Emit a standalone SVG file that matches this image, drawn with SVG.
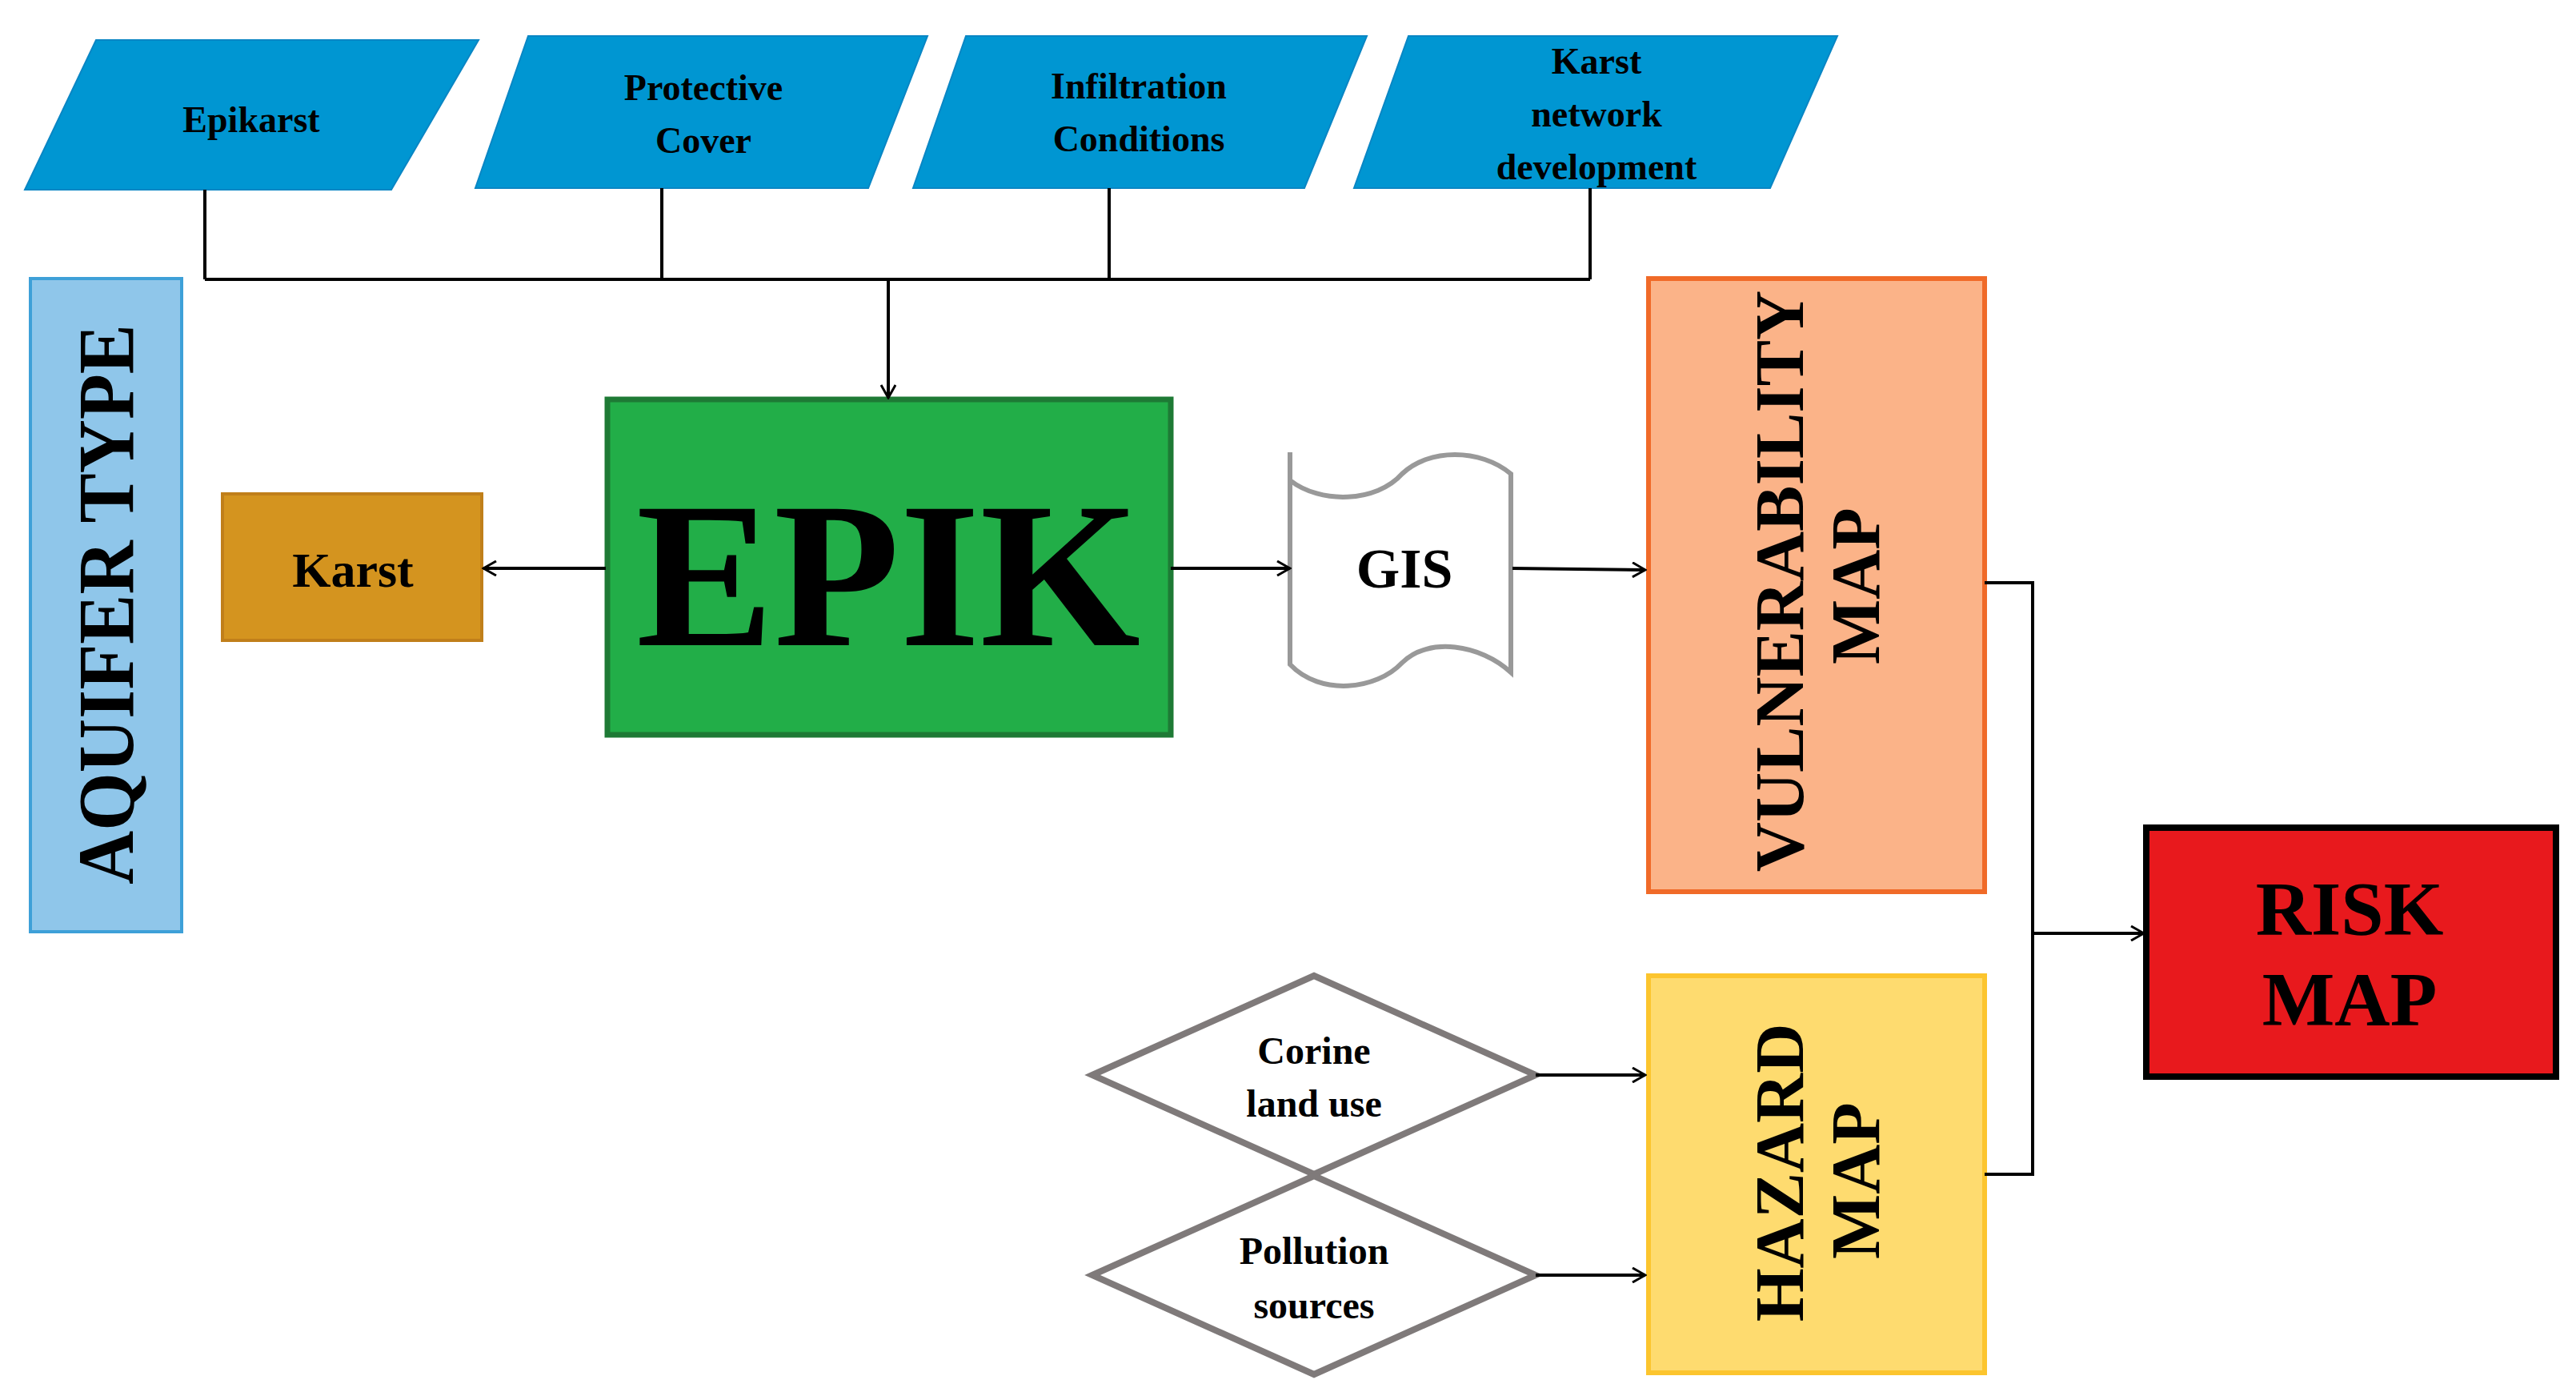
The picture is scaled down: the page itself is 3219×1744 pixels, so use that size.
<svg xmlns="http://www.w3.org/2000/svg" width="3219" height="1744" viewBox="0 0 3219 1744">
<defs>
<marker id="ah" viewBox="0 0 20 20" refX="18" refY="10" markerWidth="20" markerHeight="20" markerUnits="userSpaceOnUse" orient="auto">
<path d="M2,1 L18,10 L2,19" fill="none" stroke="#000" stroke-width="3"/>
</marker>
</defs>
<style>
text{font-family:"Liberation Serif","Times New Roman",serif;font-weight:bold;fill:#000;text-anchor:middle;dominant-baseline:central}
.para{fill:#0096d2;stroke:#0a86c4;stroke-width:2}
.pt{font-size:46px}
.c{fill:none;stroke:#000;stroke-width:4}
.dia{fill:#fff;stroke:#7f7a7a;stroke-width:8}
.dt{font-size:48px}
.big{font-size:86px}
</style>
<rect width="3219" height="1744" fill="#fff"/>
<g id="epikarst"><polygon class="para" points="120,50 598,50 489,237 31,237"/><text class="pt" x="314" y="149">Epikarst</text></g>
<g id="protective"><polygon class="para" points="660,45 1159,45 1085,235 594,235"/><text class="pt" x="879" y="109">Protective</text><text class="pt" x="879" y="175">Cover</text></g>
<g id="infiltration"><polygon class="para" points="1207,45 1708,45 1630,235 1141,235"/><text class="pt" x="1423" y="107">Infiltration</text><text class="pt" x="1423" y="173">Conditions</text></g>
<g id="karstnet"><polygon class="para" points="1760,45 2296,45 2212,235 1692,235"/><text class="pt" x="1995" y="76">Karst</text><text class="pt" x="1995" y="142">network</text><text class="pt" x="1995" y="208">development</text></g>
<g id="aquifer"><rect x="38" y="348" width="189" height="816" fill="#8fc6ea" stroke="#3ea0d8" stroke-width="4"/><text x="132" y="755" font-size="100" textLength="700" lengthAdjust="spacingAndGlyphs" transform="rotate(-90 132 755)">AQUIFER TYPE</text></g>
<g id="karst"><rect x="278" y="617" width="324" height="183" fill="#d4941f" stroke="#c07f1a" stroke-width="4"/><text x="441" y="712" font-size="62">Karst</text></g>
<g id="epik"><rect x="759" y="499" width="704" height="419" fill="#22ae48" stroke="#1e7a35" stroke-width="7"/><text x="1110" y="718" font-size="260" textLength="630" lengthAdjust="spacingAndGlyphs">EPIK</text></g>
<g id="gis"><path d="M1612,565 L1612,830 C1650,870 1720,862 1752,828 C1785,795 1850,805 1888,840 L1888,592 C1850,560 1785,560 1752,592 C1720,628 1650,630 1612,600" fill="#fff" stroke="#999" stroke-width="6"/><text x="1755" y="710" font-size="70">GIS</text></g>
<g id="vuln"><rect x="2060" y="348" width="420" height="766" fill="#fbb388" stroke="#f06a28" stroke-width="6"/><text class="big" x="2224" y="726" transform="rotate(-90 2224 726)">VULNERABILITY</text><text class="big" x="2319" y="732" transform="rotate(-90 2319 732)">MAP</text></g>
<g id="hazard"><rect x="2060" y="1219" width="420" height="496" fill="#fedb6f" stroke="#fcc52e" stroke-width="6"/><text class="big" x="2224" y="1465" transform="rotate(-90 2224 1465)">HAZARD</text><text class="big" x="2319" y="1475" transform="rotate(-90 2319 1475)">MAP</text></g>
<g id="risk"><rect x="2682" y="1034" width="512" height="311" fill="#e8191d" stroke="#000" stroke-width="8"/><text x="2936" y="1135" font-size="96">RISK</text><text x="2936" y="1248" font-size="96">MAP</text></g>
<g id="corine"><polygon class="dia" points="1365,1343 1642,1219 1919,1343 1642,1467"/><text class="dt" x="1642" y="1312">Corine</text><text class="dt" x="1642" y="1378">land use</text></g>
<g id="pollution"><polygon class="dia" points="1365,1593 1642,1469 1919,1593 1642,1717"/><text class="dt" x="1642" y="1562">Pollution</text><text class="dt" x="1642" y="1630">sources</text></g>
<g id="connectors">
<path class="c" d="M256,237 V349 M827,235 V349 M1386,235 V349 M1987,235 V349 M256,349 H1987"/>
<path class="c" d="M1110,349 V497" marker-end="url(#ah)"/>
<path class="c" d="M757,710 H604" marker-end="url(#ah)"/>
<path class="c" d="M1463,710 H1612" marker-end="url(#ah)"/>
<path class="c" d="M1890,710 L2056,712" marker-end="url(#ah)"/>
<path class="c" d="M2480,728 H2540 V1467 H2480"/>
<path class="c" d="M2540,1166 H2679" marker-end="url(#ah)"/>
<path class="c" d="M1919,1343 H2056" marker-end="url(#ah)"/>
<path class="c" d="M1919,1593 H2056" marker-end="url(#ah)"/>
</g>
</svg>
